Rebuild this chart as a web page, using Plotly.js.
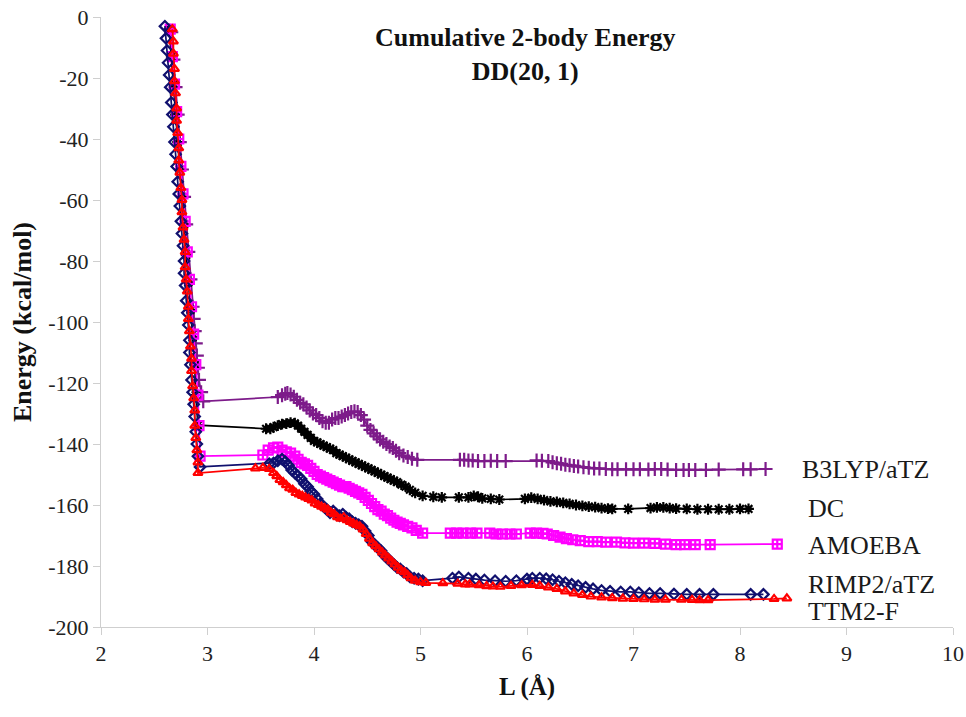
<!DOCTYPE html>
<html>
<head>
<meta charset="utf-8">
<script src="https://cdn.plot.ly/plotly-3.0.1.min.js"></script>
<style>html,body{margin:0;padding:0;background:#fff;}#chart{width:966px;height:717px;}</style>
</head>
<body>
<div id="chart"></div>
<script>
// ---- Data ----
const seriesNames = ["B3LYP/aTZ", "DC", "AMOEBA", "RIMP2/aTZ", "TTM2-F"];

const b3lypL = [2.66,2.68,2.70,2.72,2.74,2.76,2.78,2.80,2.82,2.84,2.86,2.87,2.88,2.89,2.90,2.91,2.92,2.94,2.96,
  3.66,3.70,3.73,3.75,3.78,3.81,3.84,3.87,3.90,3.93,3.96,3.99,4.02,4.05,4.08,4.11,4.14,4.17,4.20,4.23,4.26,4.29,4.32,4.35,4.38,4.41,4.44,4.47,4.50,4.53,4.56,4.59,4.62,4.65,4.68,4.71,4.74,4.77,4.80,4.84,4.88,4.92,4.97,
  5.37,5.41,5.45,5.49,5.54,5.60,5.66,5.72,5.80,6.09,6.14,6.20,6.24,6.28,6.32,6.36,6.40,6.44,6.48,6.53,6.58,6.63,6.68,6.74,6.80,6.85,6.93,7.00,7.06,7.14,7.20,7.26,7.32,7.40,7.47,7.52,7.58,7.68,7.80,8.03,8.10,8.24];
const b3lypE = [-5,-14,-23,-32,-41,-50,-59,-68,-77,-86,-95,-99,-103,-107,-111,-115,-119,-123,-126,
  -124.6,-124,-123.5,-123.3,-123.8,-124.5,-125.5,-126.5,-127,-128,-129,-130,-130.5,-131.5,-132.5,-133,-133,-132,-131.5,-131.5,-131,-130.5,-130,-129.5,-129.3,-129.5,-130.5,-132,-134,-135.4,-136.5,-137.5,-138.5,-139.3,-140,-140.8,-141.3,-142.2,-143,-143.8,-144.3,-144.8,-145.2,
  -145.2,-145.2,-145.4,-145.4,-145.6,-145.6,-145.5,-145.6,-145.6,-145.4,-145.5,-145.6,-146,-146.3,-146.5,-146.8,-147,-147.2,-147.4,-147.6,-147.8,-148,-148,-148.2,-148.3,-148.3,-148.3,-148.3,-148.3,-148.4,-148.2,-148.2,-148.4,-148.5,-148.5,-148.5,-148.5,-148.5,-148.4,-148.3,-148.3,-148.2];

const dcL = [2.64,2.66,2.68,2.70,2.72,2.74,2.76,2.78,2.80,2.82,2.84,2.86,2.88,2.89,2.91,
  3.55,3.59,3.62,3.66,3.70,3.74,3.78,3.82,3.85,3.88,3.91,3.94,3.97,4.00,4.03,4.06,4.09,4.12,4.15,4.18,4.21,4.24,4.27,4.30,4.33,4.36,4.39,4.42,4.45,4.48,4.51,4.54,4.57,4.60,4.63,4.66,4.69,4.72,4.75,4.78,4.82,4.86,4.90,4.95,5.02,
  5.12,5.20,5.36,5.45,5.50,5.54,5.58,5.66,5.74,5.98,6.04,6.10,6.16,6.22,6.28,6.34,6.40,6.46,6.52,6.58,6.64,6.70,6.76,6.80,6.95,7.16,7.22,7.28,7.34,7.40,7.50,7.60,7.70,7.80,7.90,8.00,8.08];
const dcE = [-4,-13,-22,-32,-41,-50,-59,-68,-78,-87,-96,-105,-114,-124,-133.8,
  -135,-135,-134.5,-134,-133.5,-133.3,-133,-133.2,-134,-135,-136,-137,-138,-139,-139.5,-140,-140.5,-141,-141.5,-142,-143,-143.5,-144,-144.5,-145,-145.5,-146,-146.5,-147,-147.5,-148,-148.5,-149,-149.5,-150,-150.5,-151,-151.5,-152,-152.5,-153.3,-154,-155,-156,-157,
  -157.3,-157.5,-157.5,-157.5,-157,-157.3,-157.8,-158,-158.2,-158,-157.6,-158,-158.4,-158.8,-159,-159.3,-159.6,-160,-160.3,-160.5,-160.7,-161,-161.2,-161.3,-161.3,-161,-160.8,-160.8,-161,-161.2,-161.3,-161.4,-161.4,-161.4,-161.4,-161.3,-161.3];

const amoebaL = [2.65,2.67,2.69,2.71,2.73,2.75,2.77,2.79,2.81,2.83,2.85,2.87,2.89,2.91,2.92,2.93,
  3.52,3.57,3.62,3.66,3.70,3.74,3.78,3.82,3.85,3.88,3.91,3.94,3.97,4.00,4.03,4.06,4.09,4.12,4.15,4.18,4.21,4.24,4.27,4.30,4.33,4.36,4.39,4.42,4.45,4.48,4.51,4.54,4.57,4.60,4.63,4.66,4.69,4.72,4.75,4.78,4.81,4.84,4.88,4.92,4.96,5.02,
  5.28,5.34,5.40,5.47,5.53,5.65,5.71,5.77,5.84,5.90,6.03,6.09,6.15,6.19,6.25,6.31,6.37,6.43,6.50,6.58,6.66,6.74,6.84,6.92,7.00,7.10,7.20,7.30,7.40,7.48,7.58,7.72,8.35];
const amoebaE = [-4,-13,-22,-31,-40,-49,-58,-67,-77,-86,-95,-104,-114,-124,-134,-144,
  -143.6,-142,-141.3,-141,-142,-142.6,-143,-144,-145,-146,-146.5,-147,-148,-149,-150,-150.5,-151,-151.5,-152,-152.5,-153,-153.5,-154,-154,-154.5,-155,-155.5,-156,-156.5,-157.5,-158.5,-159.5,-160.5,-161.5,-162,-163,-163.5,-164.3,-165,-165.6,-166,-166.5,-167,-167.5,-168.3,-169.2,
  -169.2,-169.2,-169.2,-169.2,-169.2,-169.2,-169.5,-169.5,-169.5,-169.5,-169.2,-169.2,-169.3,-169.5,-170,-170.5,-171,-171.4,-171.7,-172,-172,-172.2,-172.2,-172.4,-172.5,-172.5,-172.6,-172.8,-173,-173,-173,-173,-172.8];

const rimp2L = [2.60,2.61,2.62,2.63,2.64,2.65,2.66,2.67,2.68,2.69,2.70,2.71,2.72,2.73,2.74,2.75,2.76,2.77,2.78,2.78,2.79,2.80,2.81,2.82,2.83,2.83,2.84,2.85,2.86,2.87,2.88,2.89,2.90,2.91,2.93,
  3.58,3.62,3.66,3.70,3.73,3.76,3.79,3.82,3.85,3.88,3.91,3.94,3.97,4.00,4.03,4.06,4.09,4.12,4.15,4.18,4.21,4.24,4.27,4.30,4.33,4.36,4.39,4.42,4.45,4.48,4.51,4.54,4.57,4.60,4.63,4.66,4.69,4.72,4.75,4.78,4.81,4.84,4.87,4.90,4.94,4.98,5.02,
  5.30,5.36,5.45,5.52,5.60,5.70,5.80,5.90,6.00,6.05,6.12,6.18,6.24,6.30,6.36,6.42,6.48,6.55,6.62,6.70,6.78,6.88,6.97,7.05,7.15,7.25,7.38,7.50,7.62,7.75,8.10,8.22];
const rimp2E = [-3,-7,-11,-15,-19,-23,-28,-32,-36,-41,-45,-49,-54,-58,-62,-67,-71,-75,-80,-84,-88,-93,-97,-101,-106,-110,-114,-119,-123,-127,-131,-136,-140,-144,-147.5,
  -146.5,-146.2,-145.5,-145,-145.8,-147,-148.5,-149.5,-150.5,-151.5,-153,-154,-155.5,-156.5,-158,-159.5,-160.5,-161.5,-162.5,-162,-163,-163.5,-163,-164,-164.5,-165.5,-166,-166.5,-167,-168.5,-170,-172,-173,-174,-175,-176.5,-177.5,-178.5,-179.5,-180.5,-181,-182,-182.5,-183.5,-184,-184.3,-184.8,
  -184,-183.6,-184,-184.3,-184.6,-184.8,-185,-184.8,-184.3,-184,-184,-184.2,-184.5,-185,-185.5,-186,-186.5,-187,-187.5,-188,-188.3,-188.5,-188.5,-188.8,-189,-189,-189.2,-189.3,-189.3,-189.3,-189.3,-189.3];

const ttm2fL = [2.67,2.68,2.68,2.69,2.69,2.70,2.71,2.71,2.72,2.73,2.73,2.74,2.75,2.76,2.76,2.77,2.78,2.79,2.79,2.80,2.81,2.82,2.82,2.83,2.84,2.85,2.85,2.86,2.87,2.88,2.88,2.89,2.90,2.91,2.91,
  3.45,3.52,3.58,3.62,3.65,3.68,3.71,3.74,3.77,3.80,3.83,3.86,3.89,3.92,3.95,3.98,4.01,4.04,4.07,4.10,4.13,4.16,4.19,4.22,4.25,4.28,4.31,4.34,4.37,4.40,4.43,4.46,4.49,4.52,4.55,4.58,4.61,4.64,4.67,4.70,4.73,4.76,4.79,4.82,4.85,4.88,4.91,4.95,5.00,5.05,
  5.21,5.35,5.42,5.46,5.55,5.62,5.68,5.75,5.85,5.95,6.05,6.12,6.20,6.28,6.36,6.44,6.52,6.60,6.70,6.80,6.90,7.00,7.10,7.20,7.30,7.45,7.55,7.62,7.70,8.32,8.44];
const ttm2fE = [-4,-8,-12,-17,-21,-25,-30,-34,-38,-43,-47,-51,-56,-60,-64,-69,-73,-77,-82,-86,-90,-95,-99,-103,-108,-112,-116,-121,-125,-129,-134,-138,-142,-146,-149.5,
  -148,-147.8,-148.2,-149.5,-150.5,-151.8,-152.5,-153.5,-154.5,-155,-156,-156.5,-157,-157.5,-158,-158.5,-159.5,-160,-160.5,-161,-161.5,-162.5,-163,-164,-164.5,-164,-165,-165.5,-166,-166.5,-167,-168,-169.5,-171,-172.5,-173.5,-174.5,-175.5,-176.5,-177.5,-178.5,-179.5,-180.5,-181.5,-182,-183,-184,-184.8,-185.3,-185.5,
  -185.6,-185.8,-186,-186,-186.3,-186.6,-186.7,-186.8,-186.5,-186.3,-186.2,-186.5,-187,-187.5,-188.3,-189,-189.5,-190,-190.3,-190.5,-190.7,-190.8,-190.9,-191,-191,-191,-191.1,-191.2,-191.2,-190.8,-190.6];

const labelEnergy = [-148.5, -161, -173.4, -185.9, -194.8];
const xTicks = [2,3,4,5,6,7,8,9,10];
const yTicks = [0,-20,-40,-60,-80,-100,-120,-140,-160,-180,-200];

// ---- Styling ----
const serif = "Liberation Serif, Times New Roman, serif";
const colors = ["#7d1b8a", "#000000", "#ff00ff", "#10106e", "#ff0000"];
const symbols = ["cross-thin-open", "asterisk-open", "square-cross-open", "diamond-open", "triangle-up-open"];
const sizes = [10, 9, 9, 8, 8];
const xs = [b3lypL, dcL, amoebaL, rimp2L, ttm2fL];
const ys = [b3lypE, dcE, amoebaE, rimp2E, ttm2fE];

const traces = seriesNames.map((n, i) => ({
  type: "scatter", mode: "lines+markers", name: n,
  x: xs[i], y: ys[i],
  line: {color: colors[i], width: 1.7},
  marker: {symbol: symbols[i], size: sizes[i], color: colors[i], line: {color: colors[i], width: 2.2}},
  showlegend: false
}));

const labelX = [8.56, 8.62, 8.62, 8.62, 8.62];
const annotations = seriesNames.map((n, i) => ({
  x: labelX[i], y: labelEnergy[i], xref: "x", yref: "y",
  text: n, showarrow: false, xanchor: "left", yanchor: "middle",
  font: {family: serif, size: 26, color: "#1a1a1a"}
}));
// chart title
annotations.push({
  x: 0.4977, y: 0.993, xref: "paper", yref: "paper", xanchor: "center", yanchor: "top",
  showarrow: false, align: "center",
  text: "<b>Cumulative 2-body Energy<br>DD(20, 1)</b>",
  font: {family: serif, size: 26, color: "#111"}
});
// y axis title
annotations.push({
  x: -0.0927, y: 0.5, xref: "paper", yref: "paper", xanchor: "center", yanchor: "middle",
  showarrow: false, textangle: -90,
  text: "<b>Energy (kcal/mol)</b>",
  font: {family: serif, size: 26, color: "#111"}
});

const layout = {
  width: 966, height: 717,
  margin: {l: 101, r: 13, t: 17, b: 90},
  paper_bgcolor: "#ffffff", plot_bgcolor: "#ffffff",
  xaxis: {
    range: [2, 10], tickvals: xTicks, ticktext: xTicks.map(String),
    showgrid: false, zeroline: false, showline: true, linecolor: "#cfcfcf", linewidth: 1,
    ticks: "outside", ticklen: 7, tickcolor: "#cfcfcf",
    tickfont: {family: serif, size: 22, color: "#222"},
    title: {text: "<b>L (Å)</b>", font: {family: serif, size: 25, color: "#111"}, standoff: 12}
  },
  yaxis: {
    range: [-200, 0], tickvals: yTicks, ticktext: yTicks.map(String),
    showgrid: false, zeroline: false, showline: true, linecolor: "#cfcfcf", linewidth: 1,
    ticks: "outside", ticklen: 7, tickcolor: "#cfcfcf",
    tickfont: {family: serif, size: 22, color: "#222"}
  },
  annotations: annotations
};

Plotly.newPlot("chart", traces, layout, {displayModeBar: false, staticPlot: true});
</script>
</body>
</html>
